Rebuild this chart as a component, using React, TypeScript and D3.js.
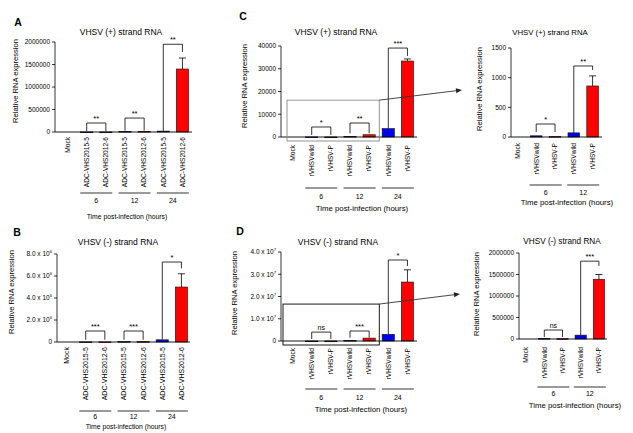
import React from "react";
import * as d3 from "d3";

// ---------- data ----------
const catsAB = ["Mock", "ADC-VHS2015-5", "ADC-VHS2012-6", "ADC-VHS2015-5", "ADC-VHS2012-6", "ADC-VHS2015-5", "ADC-VHS2012-6"];
const catsCD = ["Mock", "rVHSVwild", "rVHSV-P", "rVHSVwild", "rVHSV-P", "rVHSVwild", "rVHSV-P"];
const catsInset = ["Mock", "rVHSVwild", "rVHSV-P", "rVHSVwild", "rVHSV-P"];
const groups3 = ["6", "12", "24"];
const groups2 = ["6", "12"];

const valsA = [0, 2000, 1500, 15000, 15000, 20000, 1400000];
const errsA = [0, 0, 0, 0, 0, 0, 244000];
const valsB = [0, 10000, 10000, 50000, 50000, 200000, 5000000];
const errsB = [0, 0, 0, 0, 0, 0, 1200000];
const valsC = [0, 50, 30, 300, 1000, 3700, 33400];
const errsC = [0, 0, 0, 0, 0, 0, 900];
const valsD = [0, 30000, 20000, 300000, 1300000, 3000000, 26500000];
const errsD = [0, 0, 0, 0, 0, 0, 5500000];
const valsCi = [0, 20, 10, 70, 860];
const errsCi = [0, 0, 0, 0, 170];
const valsDi = [0, 15000, 10000, 90000, 1390000];
const errsDi = [0, 0, 0, 0, 110000];

const ticksA = [0, 500000, 1000000, 1500000, 2000000];
const ticksB = [0, 2e6, 4e6, 6e6, 8e6];
const ticksC = [0, 10000, 20000, 30000, 40000];
const ticksD = [0, 1e7, 2e7, 3e7, 4e7];
const ticksCi = [0, 500, 1000, 1500];
const ticksDi = [0, 500000, 1000000, 1500000, 2000000];

// [left index, right index, top value, left leg bottom, right leg bottom, label]
const bracketsA = [[1, 2, 200000, 20000, 20000, "**"], [3, 4, 310000, 30000, 30000, "**"], [5, 6, 1950000, 25000, 1780000, "**"]];
const bracketsB = [[1, 2, 1000000, 200000, 200000, "***"], [3, 4, 1000000, 200000, 200000, "***"], [5, 6, 7270000, 250000, 6700000, "*"]];
const bracketsC = [[1, 2, 4400, 900, 900, "*"], [3, 4, 6150, 1600, 1600, "**"], [5, 6, 39100, 3700, 35600, "***"]];
const bracketsD = [[1, 2, 4000000, 900000, 900000, "ns"], [3, 4, 4500000, 1500000, 1500000, "***"], [5, 6, 36400000, 3100000, 33700000, "*"]];
const bracketsCi = [[1, 2, 219, 84, 84, "*"], [3, 4, 1197, 70, 1130, "**"]];
const bracketsDi = [[1, 2, 209000, 47000, 47000, "ns"], [3, 4, 1810000, 93000, 1700000, "***"]];

const BLUE = "#0000ee";
const RED = "#ff0000";
const FONT = "'Liberation Sans', Arial, Helvetica, sans-serif";

const plainFmt = (v: number) => String(v);
const sciFmt = (exp: number) => (v: number) => (v === 0 ? "0" : [(v / Math.pow(10, exp)).toFixed(1) + " x 10", String(exp)]);

function Panel(p: any) {
  const x = d3
    .scaleBand<string>()
    .domain(p.cats.map((_: string, i: number) => String(i)))
    .range(p.band)
    .paddingInner(p.pad ?? 0.36)
    .paddingOuter((p.pad ?? 0.36) / 2);
  const y = d3.scaleLinear().domain([0, p.yMax]).range([p.y0, p.yTop]);
  const cx = (i: number) => (x(String(i)) as number) + x.bandwidth() / 2;
  const bw = x.bandwidth();
  const tickSize = p.tickSize ?? 6.5;
  const catSize = p.catSize ?? 6.6;
  return (
    <g fontFamily={FONT} fill="#000">
      {p.letter && (
        <text x={p.letterPos[0]} y={p.letterPos[1]} fontSize={10.5} fontWeight="bold" textAnchor="middle">
          {p.letter}
        </text>
      )}
      <text x={p.titlePos[0]} y={p.titlePos[1]} fontSize={p.titleSize ?? 8.5} textAnchor="middle">
        {p.title}
      </text>
      <text
        transform={`translate(${p.yTitlePos[0]},${p.yTitlePos[1]}) rotate(-90)`}
        fontSize={p.yTitleSize ?? 7.6}
        textAnchor="middle"
        dy="0.35em"
      >
        Relative RNA expression
      </text>
      {/* y axis */}
      <line x1={p.x0} x2={p.x0} y1={p.yTop} y2={p.y0} stroke="#000" strokeWidth={0.8} />
      {p.ticks.map((t: number, i: number) => {
        const lab = p.fmt(t);
        return (
          <g key={i}>
            <line x1={p.x0 - 3} x2={p.x0} y1={y(t)} y2={y(t)} stroke="#000" strokeWidth={0.8} />
            <text x={p.x0 - 5} y={y(t)} dy="0.35em" fontSize={tickSize} textAnchor="end">
              {Array.isArray(lab) ? (
                <>
                  {lab[0]}
                  <tspan fontSize={tickSize * 0.65} dy={-3}>
                    {lab[1]}
                  </tspan>
                </>
              ) : (
                lab
              )}
            </text>
          </g>
        );
      })}
      {/* bars */}
      {p.vals.map((v: number, i: number) =>
        i === 0 ? null : (
          <rect
            key={i}
            x={cx(i) - bw / 2}
            y={y(v)}
            width={bw}
            height={Math.max(0.8, p.y0 - y(v))}
            fill={i % 2 === 1 ? BLUE : RED}
            stroke="#111"
            strokeWidth={0.6}
          />
        )
      )}
      {/* error bars */}
      {p.errs.map((e: number, i: number) =>
        e > 0 ? (
          <g key={i} stroke="#000" strokeWidth={0.8}>
            <line x1={cx(i)} x2={cx(i)} y1={y(p.vals[i])} y2={y(p.vals[i] + e)} />
            <line x1={cx(i) - 3.5} x2={cx(i) + 3.5} y1={y(p.vals[i] + e)} y2={y(p.vals[i] + e)} />
          </g>
        ) : null
      )}
      {/* x axis */}
      <line x1={p.x0} x2={p.xEnd} y1={p.y0} y2={p.y0} stroke="#000" strokeWidth={0.9} />
      {/* brackets */}
      {p.brackets.map((b: any[], i: number) => {
        const xl = cx(b[0]);
        const xr = cx(b[1]);
        const yt = y(b[2]);
        return (
          <g key={i}>
            <path
              d={`M${xl},${y(b[3])}V${yt}H${xr}V${y(b[4])}`}
              fill="none"
              stroke="#000"
              strokeWidth={0.8}
            />
            <text x={(xl + xr) / 2} y={yt - 2} fontSize={b[5] === "ns" ? 7 : 7.5} textAnchor="middle">
              {b[5]}
            </text>
          </g>
        );
      })}
      {/* category labels */}
      {p.cats.map((c: string, i: number) => (
        <text
          key={i}
          transform={`translate(${cx(i)},${p.labelTop}) rotate(-90)`}
          fontSize={catSize}
          textAnchor="end"
          dy="0.35em"
        >
          {c}
        </text>
      ))}
      {/* group lines */}
      {p.groups.map((g: string, gi: number) => {
        const mid = (cx(1 + 2 * gi) + cx(2 + 2 * gi)) / 2;
        return (
          <g key={gi}>
            <line x1={mid - 16} x2={mid + 16} y1={p.groupLineY} y2={p.groupLineY} stroke="#000" strokeWidth={0.8} />
            <text x={mid} y={p.groupLabelY} fontSize={p.groupSize ?? 7} textAnchor="middle">
              {g}
            </text>
          </g>
        );
      })}
      <text x={p.timePos[0]} y={p.timePos[1]} fontSize={p.timeSize ?? 7.8} textAnchor="middle">
        Time post-infection (hours)
      </text>
      {/* zoom box + arrow */}
      {p.zoom && (() => {
        const left = p.x0 + p.zoom.leftOff;
        const right = cx(5) - 9;
        const top = y(p.zoom.topVal);
        const bottom = p.y0 + 4;
        const [ax, ay] = p.zoom.arrowTo;
        const ang = Math.atan2(ay - top, ax - right);
        const ah = 6;
        const p1 = [ax - ah * Math.cos(ang) + 2.5 * Math.sin(ang), ay - ah * Math.sin(ang) - 2.5 * Math.cos(ang)];
        const p2 = [ax - ah * Math.cos(ang) - 2.5 * Math.sin(ang), ay - ah * Math.sin(ang) + 2.5 * Math.cos(ang)];
        return (
          <g>
            <rect x={left} y={top} width={right - left} height={bottom - top} fill="none" stroke={p.zoom.color} strokeWidth={0.9} />
            <line x1={right} y1={top} x2={ax - ah * Math.cos(ang)} y2={ay - ah * Math.sin(ang)} stroke="#333" strokeWidth={0.9} />
            <path d={`M${ax},${ay}L${p1[0]},${p1[1]}L${p2[0]},${p2[1]}Z`} fill="#222" />
          </g>
        );
      })()}
    </g>
  );
}

export default function App() {
  return (
    <svg width={633} height={433} style={{ display: "block", position: "absolute", left: 0, top: 0, background: "#fff" }}>
      <rect width={633} height={433} fill="#fff" />
      <Panel
        letter="A" letterPos={[18, 26]} title="VHSV (+) strand RNA" titlePos={[121, 35]} yTitlePos={[15, 81]}
        cats={catsAB} vals={valsA} errs={errsA} ticks={ticksA} fmt={plainFmt} brackets={bracketsA} groups={groups3}
        x0={55} xEnd={192} band={[58, 192]} y0={132} yTop={42} yMax={2000000}
        labelTop={137} groupLineY={193} groupLabelY={203} timePos={[127, 219]} timeSize={6.8}
      />
      <Panel
        letter="B" letterPos={[17, 236]} title="VHSV (-) strand RNA" titlePos={[118, 245]} yTitlePos={[11, 292]}
        cats={catsAB} vals={valsB} errs={errsB} ticks={ticksB} fmt={sciFmt(6)} brackets={bracketsB} groups={groups3}
        x0={57} xEnd={190} band={[57, 191]} y0={342} yTop={254} yMax={8e6}
        labelTop={347} groupLineY={411} groupLabelY={419} timePos={[126, 429]} timeSize={6.8} catSize={7}
      />
      <Panel
        letter="C" letterPos={[243, 20]} title="VHSV (+) strand RNA" titlePos={[336, 35]} yTitlePos={[244, 86]}
        cats={catsCD} vals={valsC} errs={errsC} ticks={ticksC} fmt={plainFmt} brackets={bracketsC} groups={groups3}
        x0={281} xEnd={417} band={[283, 417]} y0={137} yTop={46} yMax={40000}
        labelTop={145} groupLineY={188} groupLabelY={199} timePos={[362, 211]}
        zoom={{ leftOff: 6, topVal: 16200, color: "#888", arrowTo: [462, 90] }}
      />
      <Panel
        letter="D" letterPos={[240, 235]} title="VHSV (-) strand RNA" titlePos={[338, 245]} yTitlePos={[234, 293]}
        cats={catsCD} vals={valsD} errs={errsD} ticks={ticksD} fmt={sciFmt(7)} brackets={bracketsD} groups={groups3}
        x0={281} xEnd={417} band={[283, 417]} y0={341} yTop={252} yMax={4e7}
        labelTop={348} groupLineY={389} groupLabelY={400} timePos={[361, 412]}
        zoom={{ leftOff: 2, topVal: 16600000, color: "#000", arrowTo: [460, 294] }}
      />
      <Panel
        title="VHSV (+) strand RNA" titlePos={[550, 35]} titleSize={7.8} yTitlePos={[479, 89]}
        cats={catsInset} vals={valsCi} errs={errsCi} ticks={ticksCi} fmt={plainFmt} brackets={bracketsCi} groups={groups2}
        x0={511} xEnd={602} band={[508, 602]} y0={137} yTop={48} yMax={1500} pad={0.38}
        labelTop={143} groupLineY={185} groupLabelY={195} timePos={[567, 205]}
      />
      <Panel
        title="VHSV (-) strand RNA" titlePos={[562, 244]} titleSize={8.2} yTitlePos={[476, 294]}
        cats={catsInset} vals={valsDi} errs={errsDi} ticks={ticksDi} fmt={plainFmt} brackets={bracketsDi} groups={groups2}
        x0={519} xEnd={607} band={[517, 608]} y0={339} yTop={253} yMax={2000000} pad={0.38}
        labelTop={347} groupLineY={387} groupLabelY={396} timePos={[575, 408]}
      />
    </svg>
  );
}
